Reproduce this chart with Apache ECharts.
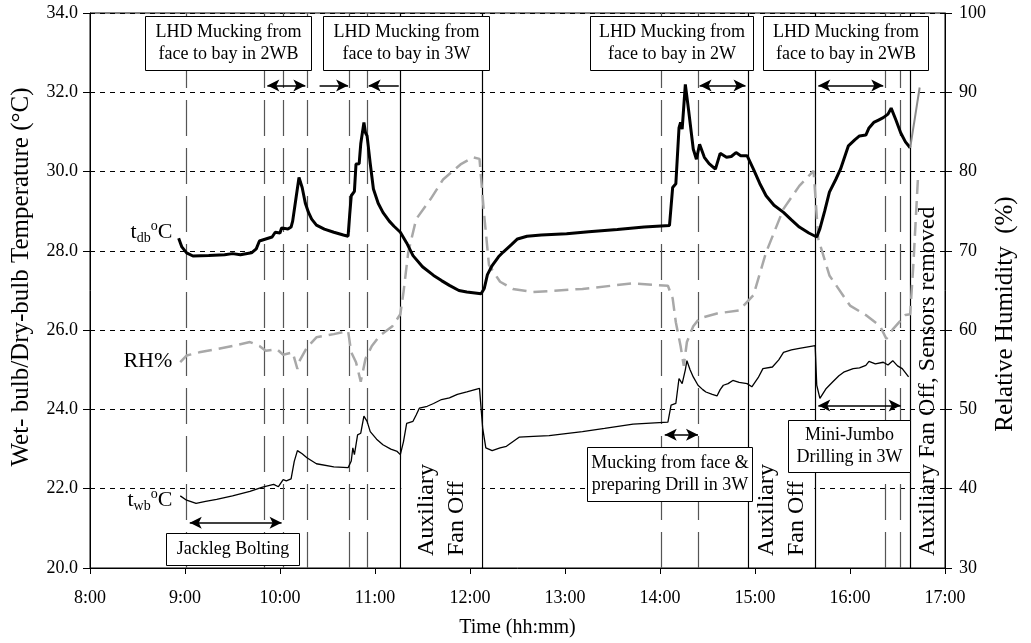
<!DOCTYPE html>
<html>
<head>
<meta charset="utf-8">
<script src="https://cdn.jsdelivr.net/npm/echarts@6/dist/echarts.min.js"></script>
<style>html,body{margin:0;background:#fff}#main{width:1031px;height:643px}</style>
</head>
<body>
<div id="main"></div>
<script>
// time in minutes after midnight
var hourLabels = ['8:00','9:00','10:00','11:00','12:00','13:00','14:00','15:00','16:00','17:00'];

// dry-bulb temperature (degC)
var tdbMin = [536,538,541,545,555,565,570,575,582,585,587,591,595,597,600,601,605,607,608,610,612,614,616,618,620,623,628,634,640,643,644,645,647,648,650,651,653,654,655,657,659,662,665,669,672,676,680,684,690,697,702,707,713,718,727,729,731,734,738,741,746,750,756,765,781,795,813,830,846,848,850,852,853,854,856,858,861,863,865,868,871,875,878,882,885,888,891,895,899,903,907,912,918,923,928,934,939,941,944,947,951,954,959,963,966,970,972,975,978,981,984,986,989,992,995,998];
var tdbC   = [28.32,28.1,27.95,27.87,27.88,27.9,27.93,27.9,27.95,28.05,28.25,28.3,28.35,28.47,28.45,28.58,28.55,28.6,28.75,29.3,29.85,29.6,29.2,28.97,28.8,28.65,28.55,28.47,28.4,28.37,28.9,29.39,29.5,30.19,30.2,30.7,31.24,30.98,30.9,30.2,29.56,29.2,28.97,28.75,28.62,28.47,28.2,27.88,27.6,27.38,27.25,27.13,27.0,26.96,26.92,27.05,27.4,27.63,27.85,27.97,28.15,28.3,28.37,28.4,28.43,28.48,28.54,28.6,28.64,29.6,29.69,31.1,31.24,31.07,32.2,31.57,30.57,30.31,30.69,30.36,30.2,30.06,30.46,30.36,30.38,30.48,30.4,30.4,30.06,29.7,29.39,29.15,28.97,28.78,28.6,28.45,28.35,28.56,29.0,29.48,29.8,30.06,30.65,30.8,30.9,30.92,31.1,31.24,31.3,31.36,31.45,31.6,31.3,30.98,30.75,30.6];

// after the sensors were removed
var tailMin = [998,999,1004];
var tailC   = [30.6,30.65,32.12];

// wet-bulb temperature (degC)
var twbMin = [537,541,547,553,560,570,581,589,596,599,602,604,607,609,611,614,617,623,634,643,645,646,647,649,651,653,655,657,661,665,670,674,676,678,680,684,686,688,693,697,702,707,712,718,726,727,728,730,734,739,743,751,760,770,791,805,823,845,847,850,852,854,856,857,859,861,864,867,869,873,876,878,880,883,886,890,895,898,902,905,911,915,918,923,928,938,939,941,945,949,953,956,962,966,970,972,976,981,984,987,990,993,997];
var twbC   = [21.82,21.71,21.63,21.68,21.73,21.82,21.93,22.04,22.11,22.05,22.23,22.2,22.25,22.69,22.96,22.88,22.78,22.63,22.55,22.53,22.7,23.03,22.86,23.36,23.4,23.83,23.7,23.44,23.25,23.11,23.0,22.94,22.86,23.19,23.65,23.7,23.86,24.03,24.08,24.15,24.25,24.29,24.38,24.44,24.53,24.5,23.53,23.03,22.96,23.03,23.07,23.3,23.32,23.34,23.44,23.52,23.63,23.68,24.11,24.15,24.78,24.65,25.0,25.23,25.0,24.82,24.61,24.5,24.44,24.38,24.34,24.5,24.61,24.65,24.73,24.68,24.65,24.57,24.8,25.03,25.07,25.25,25.44,25.5,25.54,25.61,24.61,24.28,24.53,24.69,24.85,24.94,25.03,25.05,25.11,25.21,25.15,25.19,25.12,25.23,25.1,25.03,24.82];

// relative humidity (%)
var rhMin = [537,541,549,560,570,581,587,591,598,602,608,611,612,617,623,634,643,645,648,651,654,658,663,671,676,678,681,686,695,703,714,722,726,729,732,739,747,760,791,823,845,848,850,853,855,857,861,865,876,890,899,907,918,928,937,940,947,960,970,979,983,987,995,998,1000,1003];
var rhPct = [55.96,56.8,57.2,57.6,58.0,58.5,58.0,57.4,57.6,56.9,57.2,55.1,56.0,57.8,59.1,59.5,59.9,57.2,55.96,53.5,56.4,58.0,59.3,60.5,62.0,64.8,69.8,74.0,76.5,79.0,80.9,81.8,81.6,74.4,68.2,66.1,65.2,64.8,65.2,65.9,65.6,64.0,61.0,58.0,55.5,58.5,60.5,61.5,62.1,62.5,64.4,69.8,75.3,78.2,80.1,71.5,66.9,63.1,61.9,60.5,58.9,60.1,61.9,62.0,68.2,79.5];

// activity change times
var activityLines = [541,590,602,617,644,655,841,864,982,992];
var fanOffLines = [676,728,896,938,998];

// arrows: [from, to, temperature level, heads]
var arrows = [
    [592,616,32.17,'both'],
    [625,643,32.17,'end'],
    [675,656,32.17,'end'],
    [865,894,32.17,'both'],
    [940,981,32.17,'both'],
    [543,601,21.14,'both'],
    [843,864,23.36,'both'],
    [940,992,24.1,'both']
];

var serif = 'Liberation Serif';

function pairs(xs, ys) {
    var out = [];
    for (var i = 0; i < xs.length; i++) {
        out.push([xs[i], ys[i]]);
    }
    return out;
}

var myChart = echarts.init(document.getElementById('main'));

var eventData = [];
activityLines.forEach(function (t) {
    eventData.push({xAxis: t, lineStyle: {color: '#555', width: 1.2, type: [36, 12]}});
});
fanOffLines.forEach(function (t) {
    eventData.push({xAxis: t, lineStyle: {color: '#000', width: 1.2, type: 'solid'}});
});

var arrowData = arrows.map(function (a) {
    return [
        {coord: [a[0], a[2]], symbol: a[3] === 'both' ? 'arrow' : 'none'},
        {coord: [a[1], a[2]], symbol: 'arrow'}
    ];
});

var option = {
    animation: false,
    backgroundColor: '#fff',
    grid: {left: 90, right: 86, top: 13, bottom: 73, show: true, borderColor: '#000', borderWidth: 1},
    xAxis: {
        type: 'value', min: 480, max: 1020, interval: 60,
        name: 'Time (hh:mm)', nameLocation: 'middle', nameGap: 50,
        nameTextStyle: {fontFamily: serif, fontSize: 20, color: '#000'},
        axisLine: {lineStyle: {color: '#000', width: 1}},
        axisTick: {length: 6, lineStyle: {color: '#000'}},
        axisLabel: {
            margin: 21, color: '#000', fontFamily: serif, fontSize: 18,
            formatter: function (v) { return hourLabels[(v - 480) / 60]; }
        },
        splitLine: {show: false}
    },
    yAxis: [{
        type: 'value', min: 20, max: 34, interval: 2,
        axisLine: {show: true, lineStyle: {color: '#000', width: 1}},
        axisTick: {show: true, length: 7, lineStyle: {color: '#000'}},
        axisLabel: {
            margin: 12, color: '#000', fontFamily: serif, fontSize: 18,
            formatter: function (v) { return v.toFixed(1); }
        },
        splitLine: {show: true, lineStyle: {color: '#000', width: 1, type: [5, 5]}}
    }, {
        type: 'value', min: 30, max: 100, interval: 10, position: 'right',
        axisLine: {show: true, lineStyle: {color: '#000', width: 1}},
        axisTick: {show: true, length: 7, lineStyle: {color: '#000'}},
        axisLabel: {margin: 14, color: '#000', fontFamily: serif, fontSize: 18},
        splitLine: {show: false}
    }],
    series: [{
        name: 'RH%', type: 'line', yAxisIndex: 1, data: pairs(rhMin, rhPct),
        symbol: 'none', z: 3,
        lineStyle: {color: '#a8a8a8', width: 2.5, type: [14, 7]}
    }, {
        name: 'twb', type: 'line', data: pairs(twbMin, twbC),
        symbol: 'none', z: 4,
        lineStyle: {color: '#000', width: 1.3},
        markLine: {
            silent: true, z: 1, symbol: ['none', 'none'],
            label: {show: false}, emphasis: {disabled: true},
            data: eventData
        }
    }, {
        name: 'tdb', type: 'line', data: pairs(tdbMin, tdbC),
        symbol: 'none', z: 5,
        lineStyle: {color: '#000', width: 3},
        markLine: {
            silent: true, z: 60, symbolSize: [9, 12],
            label: {show: false}, emphasis: {disabled: true},
            lineStyle: {color: '#000', width: 1.5, type: 'solid'},
            data: arrowData
        }
    }, {
        name: 'tail', type: 'line', data: pairs(tailMin, tailC),
        symbol: 'none', z: 5,
        lineStyle: {color: '#8c8c8c', width: 2}
    }]
};

myChart.setOption(option);

// annotations anchored on time / temperature
var boxes = [
    [515,620,33.93,32.56,'LHD Mucking from\nface to bay in 2WB'],
    [627,732,33.93,32.56,'LHD Mucking from\nface to bay in 3W'],
    [796,899,33.93,32.56,'LHD Mucking from\nface to bay in 2W'],
    [905,1009,33.93,32.56,'LHD Mucking from\nface to bay in 2WB'],
    [528,612,20.89,20.08,'Jackleg Bolting'],
    [794,898,23.05,21.7,'Mucking from face &\npreparing Drill in 3W'],
    [921,998,23.74,22.42,'Mini-Jumbo\nDrilling in 3W']
];
var fanOff = [
    [676,728,'Auxiliary\nFan Off'],
    [896,938,'Auxiliary\nFan Off'],
    [998,1020,'Auxiliary Fan Off, Sensors removed']
];

function px(x, y) { return myChart.convertToPixel({gridIndex: 0}, [x, y]); }

var g = [];
fanOff.forEach(function (f, i) {
    var a = px(f[0], 22.73), b = px(f[1], 20);
    if (i < 2) {
        g.push({type: 'rect', z: 40, shape: {x: a[0] + 1, y: a[1], width: b[0] - a[0] - 2, height: b[1] - a[1] - 1},
            style: {fill: '#fff'}});
    }
    g.push({type: 'text', z: 41, x: (a[0] + b[0]) / 2, y: b[1] - 12, rotation: Math.PI / 2,
        style: {text: f[2], align: 'left', verticalAlign: 'middle', fontFamily: serif, fontSize: 24, lineHeight: 30, fill: '#000'}});
});
boxes.forEach(function (bx) {
    var a = px(bx[0], bx[2]), b = px(bx[1], bx[3]);
    var x0 = Math.round(a[0]) + 0.5, y0 = Math.round(a[1]) + 0.5;
    var w = Math.round(b[0] - a[0]), h = Math.round(b[1] - a[1]);
    g.push({type: 'rect', z: 50, shape: {x: x0, y: y0, width: w, height: h},
        style: {fill: '#fff', stroke: '#000', lineWidth: 1}});
    g.push({type: 'text', z: 51, x: x0 + w / 2, y: y0 + h / 2,
        style: {text: bx[4], align: 'center', verticalAlign: 'middle', fontFamily: serif, fontSize: 18, lineHeight: 22, fill: '#000'}});
});

var rich = {
    n: {fontFamily: serif, fontSize: 22, color: '#000', lineHeight: 26},
    s: {fontFamily: serif, fontSize: 14, color: '#000', verticalAlign: 'bottom', lineHeight: 26},
    o: {fontFamily: serif, fontSize: 14, color: '#000', verticalAlign: 'top', lineHeight: 26}
};
[['{n|t}{s|db}{o|o}{n|C}', 28.48], ['{n|RH%}', 25.22], ['{n|t}{s|wb}{o|o}{n|C}', 21.7]].forEach(function (l) {
    var p = px(532, l[1]);
    g.push({type: 'text', z: 52, x: p[0], y: p[1],
        style: {text: l[0], rich: rich, align: 'right', verticalAlign: 'middle', fill: '#000'}});
});

// axis titles (rotated, reading upward)
g.push({type: 'text', z: 52, x: 21, y: 277, rotation: Math.PI / 2,
    style: {text: 'Wet- bulb/Dry-bulb Temperature (°C)', align: 'center', verticalAlign: 'middle',
        fontFamily: serif, fontSize: 25, fill: '#000'}});
g.push({type: 'text', z: 52, x: 1005, y: 314, rotation: Math.PI / 2,
    style: {text: 'Relative Humidity  (%)', align: 'center', verticalAlign: 'middle',
        fontFamily: serif, fontSize: 25, fill: '#000'}});

myChart.setOption({graphic: g});
</script>
</body>
</html>
